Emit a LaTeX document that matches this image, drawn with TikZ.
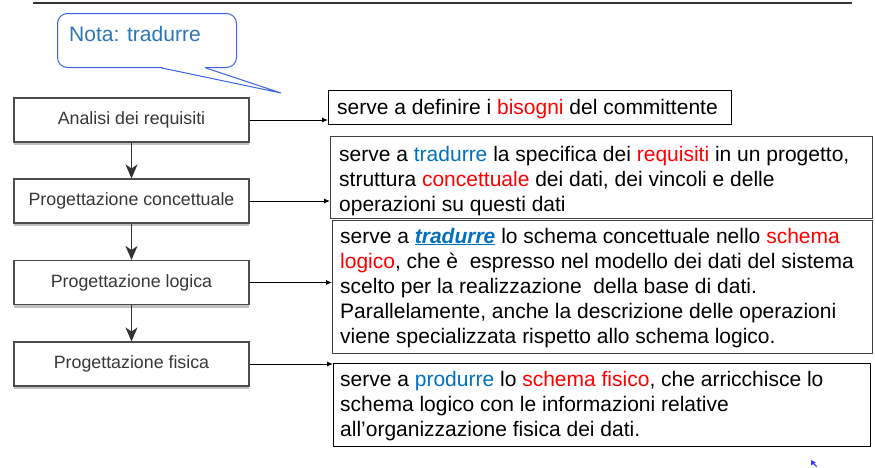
\documentclass[tikz,border=0pt]{standalone}
\usepackage{fontspec}
\setmainfont{Liberation Sans}
\usetikzlibrary{arrows.meta,shadows}
\definecolor{cblue}{RGB}{0,112,192}
\definecolor{nblue}{RGB}{46,117,182}
\definecolor{lblue}{RGB}{60,100,225}
\definecolor{boxtxt}{RGB}{55,55,55}
\begin{document}
\begin{tikzpicture}[x=1pt,y=-1pt,
  stepbox/.style={draw=black!70, line width=1.1pt, fill=white,
    minimum width=235pt, minimum height=44pt, inner sep=0pt,
    font=\fontsize{17.8}{20}\selectfont, text=boxtxt,
    drop shadow={shadow xshift=0pt, shadow yshift=-3pt, fill=black!55, opacity=.45}},
  rbox/.style={draw=#1, line width=1pt, inner sep=0pt, anchor=north west},
  varrow/.style={draw=black!80, line width=1.3pt,
    -{Stealth[length=14pt,width=12pt,inset=4pt]}},
  harrow/.style={draw=black, line width=0.9pt, -{Latex[length=6pt,width=5pt]}},
  txt/.style={anchor=base west, inner sep=0pt, font=\fontsize{21}{25}\selectfont},
  callout/.style={draw=lblue, line width=1pt, rounded corners=10pt, fill=white,
    inner sep=0pt, anchor=north west}
]
\useasboundingbox (0,0) rectangle (875,467);

% top rule
\draw[black!80, line width=1.3pt] (33,3) -- (852,3);

% callout
\node[callout, minimum width=179pt, minimum height=54pt] (nota) at (57,13) {};
\coordinate (tip) at (281,93);
\fill[white] ([xshift=105.6pt,yshift=1.5pt]nota.south west) rectangle ([xshift=148.4pt,yshift=-1.5pt]nota.south west);
\draw[lblue, line width=1pt] ([xshift=105pt]nota.south west) -- (tip) -- ([xshift=149pt]nota.south west);
\node[txt, text=nblue] (notat) at (69,41) {Nota: tradurre};

% left steps
\node[stepbox] (l1) at (131.5,120) {Analisi dei requisiti};
\node[stepbox] (l2) at (131.5,201) {Progettazione concettuale};
\node[stepbox] (l3) at (131.5,282.5) {Progettazione logica};
\node[stepbox] (l4) at (131.5,364) {Progettazione fisica};

\draw[varrow] (l1.south) -- (l2.north);
\draw[varrow] (l2.south) -- (l3.north);
\draw[varrow] (l3.south) -- (l4.north);

% right boxes
\node[rbox=black, minimum width=403pt, minimum height=34pt] (rA) at (328,90) {};
\node[rbox=black!75, minimum width=542pt, minimum height=82pt] (rB) at (330,136) {};
\node[rbox=black!75, minimum width=540pt, minimum height=133pt] (rC) at (332,220) {};
\node[rbox=black, line width=1.2pt, minimum width=537pt, minimum height=83pt] (rD) at (333,363) {};

\draw[harrow] (l1.east) -- (l1.east -| rA.west);
\draw[harrow] (l2.east) -- (l2.east -| rB.west);
\draw[harrow] (l3.east) -- (l3.east -| rC.west);
\draw[harrow] (l4.east) -- (l4.east -| rD.west);

% texts
\node[txt] (a1) at (337,114) {serve a definire i \textcolor{red}{bisogni} del committente};

\node[txt] (b1) at (339,161) {serve a \textcolor{cblue}{tradurre} la specifica dei \textcolor{red}{requisiti} in un progetto,};
\node[txt] (b2) at (339,186) {struttura \textcolor{red}{concettuale} dei dati, dei vincoli e delle};
\node[txt] (b3) at (339,211) {operazioni su questi dati};

\node[txt] (c1) at (340,243) {serve a \textcolor{cblue}{\underline{\textbf{\textit{tradurre}}}} lo schema concettuale nello \textcolor{red}{schema}};
\node[txt] (c2) at (340,268) {\textcolor{red}{logico}, che è\ \ espresso nel modello dei dati del sistema};
\node[txt] (c3) at (340,293) {scelto per la realizzazione\ \ della base di dati.};
\node[txt] (c4) at (340,318) {Parallelamente, anche la descrizione delle operazioni};
\node[txt] (c5) at (340,343) {viene specializzata rispetto allo schema logico.};

\node[txt] (d1) at (340,386) {serve a \textcolor{cblue}{produrre} lo \textcolor{red}{schema fisico}, che arricchisce lo};
\node[txt] (d2) at (340,411) {schema logico con le informazioni relative};
\node[txt] (d3) at (340,436) {all’organizzazione fisica dei dati.};

% small cursor mark
\fill[blue!80] (811,460) -- (811,465.5) -- (813,464) -- (816.5,467) -- (817,466.3) -- (814,463) -- (816,462.5) -- cycle;
\end{tikzpicture}
\end{document}
